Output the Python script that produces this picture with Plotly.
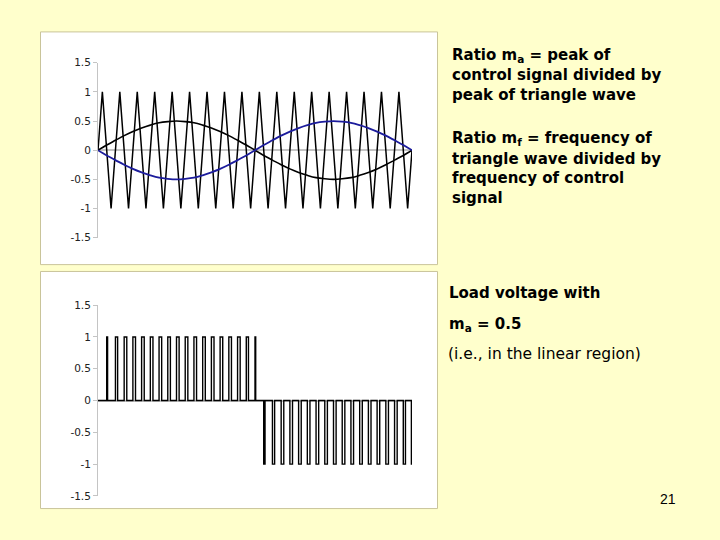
import plotly.graph_objects as go

# ---------------- data (time axis in degrees of the control signal) ----------------
carrier_t = [0, 5, 15, 25, 35, 45, 55, 65, 75, 85, 95, 105, 115, 125, 135, 145, 155, 165, 175,
             185, 195, 205, 215, 225, 235, 245, 255, 265, 275, 285, 295, 305, 315, 325, 335, 345, 355, 360]
carrier_v = [0, 1, -1, 1, -1, 1, -1, 1, -1, 1, -1, 1, -1, 1, -1, 1, -1, 1, -1,
             1, -1, 1, -1, 1, -1, 1, -1, 1, -1, 1, -1, 1, -1, 1, -1, 1, -1, 0]

control_t = [0, 10, 20, 30, 40, 50, 60, 70, 80, 90, 100, 110, 120, 130, 140, 150, 160, 170, 180,
             190, 200, 210, 220, 230, 240, 250, 260, 270, 280, 290, 300, 310, 320, 330, 340, 350, 360]
control_a = [0, 0.09, 0.17, 0.25, 0.32, 0.38, 0.43, 0.47, 0.49, 0.5, 0.49, 0.47, 0.43, 0.38, 0.32, 0.25, 0.17, 0.09, 0,
             -0.09, -0.17, -0.25, -0.32, -0.38, -0.43, -0.47, -0.49, -0.5, -0.49, -0.47, -0.43, -0.38, -0.32, -0.25, -0.17, -0.09, 0]
control_b = [0, -0.09, -0.17, -0.25, -0.32, -0.38, -0.43, -0.47, -0.49, -0.5, -0.49, -0.47, -0.43, -0.38, -0.32, -0.25, -0.17, -0.09, 0,
             0.09, 0.17, 0.25, 0.32, 0.38, 0.43, 0.47, 0.49, 0.5, 0.49, 0.47, 0.43, 0.38, 0.32, 0.25, 0.17, 0.09, 0]

pos_on = [10, 20, 30, 40, 50, 60, 70, 80, 90, 100, 110, 120, 130, 140, 150, 160, 170, 180]
pos_off = [11, 22.5, 33, 43, 53, 63, 73, 83, 93, 103, 113, 123, 133, 143, 153, 163, 172.5, 180.8]
neg_on = [190, 200, 210, 220, 230, 240, 250, 260, 270, 280, 290, 300, 310, 320, 330, 340, 350, 359.3]
neg_off = [191.5, 202.5, 213, 223, 233, 243, 253, 263, 273, 283, 293, 303, 313, 323, 333, 343, 352.5, 360]

y_ticks = [-1.5, -1, -0.5, 0, 0.5, 1, 1.5]
y_labels = ["-1.5", "-1", "-0.5", "0", "0.5", "1", "1.5"]

# ---------------- build the load-voltage step trace ----------------
load_t, load_v = [0], [0]
for on, off in zip(pos_on, pos_off):
    load_t += [on, on, off, off]
    load_v += [0, 1, 1, 0]
for on, off in zip(neg_on, neg_off):
    load_t += [on, on, off, off]
    load_v += [0, -1, -1, 0]
load_t.append(360)
load_v.append(0)

W, H = 720, 540
FONT = "DejaVu Sans, Verdana, sans-serif"
NUMFONT = "Liberation Sans, Arial, sans-serif"

def px(x):
    return x / W

def py(y):
    return 1 - y / H

fig = go.Figure()
fig.add_trace(go.Scatter(x=carrier_t, y=carrier_v, mode="lines",
                         line=dict(color="black", width=1.5), xaxis="x", yaxis="y"))
fig.add_trace(go.Scatter(x=control_t, y=control_a, mode="lines", line_shape="spline",
                         line=dict(color="black", width=1.6), xaxis="x", yaxis="y"))
fig.add_trace(go.Scatter(x=control_t, y=control_b, mode="lines", line_shape="spline",
                         line=dict(color="#1c1c9c", width=1.8), xaxis="x", yaxis="y"))
fig.add_trace(go.Scatter(x=load_t, y=load_v, mode="lines",
                         line=dict(color="black", width=1.4), xaxis="x2", yaxis="y2"))

yax_common = dict(range=[-1.5, 1.5], tickvals=y_ticks, ticktext=y_labels, showgrid=False,
                  showline=True, linecolor="#c4c4c4", linewidth=1, ticks="outside", ticklen=4,
                  tickcolor="#c4c4c4", tickfont=dict(family=FONT, size=10.5, color="#222"),
                  zeroline=True, zerolinecolor="#c4c4c4", zerolinewidth=2, fixedrange=True)
xax_common = dict(range=[0, 360], showticklabels=False, showgrid=False, showline=False,
                  zeroline=False, ticks="", fixedrange=True)

fig.update_layout(
    width=W, height=H, autosize=False, margin=dict(l=0, r=0, t=0, b=0, pad=0),
    paper_bgcolor="#FFFFCC", plot_bgcolor="rgba(0,0,0,0)", showlegend=False,
    xaxis=dict(domain=[px(98), px(412)], anchor="y", **xax_common),
    yaxis=dict(domain=[py(237), py(58)], anchor="x", **yax_common),
    xaxis2=dict(domain=[px(98), px(412)], anchor="y2", **xax_common),
    yaxis2=dict(domain=[py(501), py(306)], anchor="x2", **yax_common),
    shapes=[
        dict(type="rect", xref="paper", yref="paper", x0=px(40.5), x1=px(437.5), y0=py(264.5), y1=py(26.5),
             fillcolor="white", line=dict(color="#c9c49a", width=1), layer="below"),
        dict(type="rect", xref="paper", yref="paper", x0=px(40.5), x1=px(437.5), y0=py(514), y1=py(271.5),
             fillcolor="white", line=dict(color="#c9c49a", width=1), layer="below"),
    ],
)

def note(text, x, y, size=15, bold=True):
    t = f"<b>{text}</b>" if bold else text
    fig.add_annotation(text=t, xref="paper", yref="paper", x=px(x), y=py(y), xanchor="left",
                       yanchor="middle", showarrow=False, align="left",
                       font=dict(family=FONT, size=size, color="black"))

note("Ratio m<sub>a</sub> = peak of", 450, 50.5)
note("control signal divided by", 450, 71)
note("peak of triangle wave", 450, 91)
note("Ratio m<sub>f</sub> = frequency of", 450, 136)
note("triangle wave divided by", 450, 156)
note("frequency of control", 450, 176)
note("signal", 450, 196)
note("Load voltage with", 447, 293.5)
note("m<sub>a</sub> = 0.5", 447, 326)
note("(i.e., in the linear region)", 446, 356, size=15.5, bold=False)
fig.add_annotation(text="21", xref="paper", yref="paper", x=px(668), y=py(504), xanchor="center",
                   yanchor="middle", showarrow=False, font=dict(family=NUMFONT, size=14, color="black"))

page_js = (
    "document.documentElement.style.margin='0';"
    "document.documentElement.style.overflow='hidden';"
    "document.body.style.margin='0';"
    "document.body.style.padding='0';"
    "document.body.style.overflow='hidden';"
    "document.body.style.height='540px';"
    "var gd=document.getElementById('{plot_id}');"
    "gd.style.position='fixed';gd.style.top='0px';gd.style.left='0px';"
)
fig.write_html("out.html", config={"displayModeBar": False, "responsive": False},
               post_script=page_js)
